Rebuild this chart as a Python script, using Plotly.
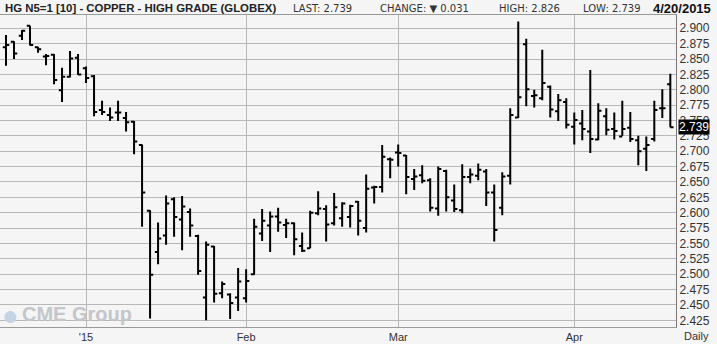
import plotly.graph_objects as go

dates = [
    "2014-12-17", "2014-12-18", "2014-12-19", "2014-12-22", "2014-12-23", "2014-12-24", "2014-12-26",
    "2014-12-29", "2014-12-30", "2014-12-31",
    "2015-01-02", "2015-01-05", "2015-01-06", "2015-01-07", "2015-01-08", "2015-01-09", "2015-01-12",
    "2015-01-13", "2015-01-14", "2015-01-15", "2015-01-16", "2015-01-20", "2015-01-21", "2015-01-22",
    "2015-01-23", "2015-01-26", "2015-01-27", "2015-01-28", "2015-01-29", "2015-01-30",
    "2015-02-02", "2015-02-03", "2015-02-04", "2015-02-05", "2015-02-06", "2015-02-09", "2015-02-10",
    "2015-02-11", "2015-02-12", "2015-02-13", "2015-02-17", "2015-02-18", "2015-02-19", "2015-02-20",
    "2015-02-23", "2015-02-24", "2015-02-25", "2015-02-26", "2015-02-27",
    "2015-03-02", "2015-03-03", "2015-03-04", "2015-03-05", "2015-03-06", "2015-03-09", "2015-03-10",
    "2015-03-11", "2015-03-12", "2015-03-13", "2015-03-16", "2015-03-17", "2015-03-18", "2015-03-19",
    "2015-03-20", "2015-03-23", "2015-03-24", "2015-03-25", "2015-03-26", "2015-03-27", "2015-03-30",
    "2015-03-31",
    "2015-04-01", "2015-04-02", "2015-04-06", "2015-04-07", "2015-04-08", "2015-04-09", "2015-04-10",
    "2015-04-13", "2015-04-14", "2015-04-15", "2015-04-16", "2015-04-17", "2015-04-20",
]

open_ = [
    2.869, 2.878, 2.888, 2.904, 2.869, 2.854, 2.857, 2.799, 2.821, 2.852,
    2.835, 2.822, 2.767, 2.759, 2.763, 2.754, 2.748, 2.710, 2.603, 2.536,
    2.563, 2.622, 2.589, 2.601, 2.562, 2.462, 2.545, 2.469, 2.467, 2.462,
    2.461, 2.500, 2.566, 2.579, 2.594, 2.580, 2.583, 2.546, 2.542, 2.599,
    2.606, 2.583, 2.591, 2.593, 2.618, 2.575, 2.641, 2.642, 2.687,
    2.698, 2.693, 2.655, 2.661, 2.653, 2.607, 2.668, 2.620, 2.604, 2.658,
    2.660, 2.667, 2.633, 2.608, 2.660, 2.755, 2.874, 2.790, 2.786, 2.805,
    2.765, 2.780,
    2.740, 2.745, 2.732, 2.719, 2.757, 2.736, 2.724, 2.738, 2.718, 2.704,
    2.720, 2.770, 2.809,
]
high = [
    2.889, 2.879, 2.897, 2.904, 2.870, 2.858, 2.858, 2.836, 2.863, 2.858,
    2.838, 2.824, 2.782, 2.771, 2.782, 2.764, 2.749, 2.711, 2.604, 2.584,
    2.628, 2.625, 2.627, 2.607, 2.564, 2.553, 2.546, 2.488, 2.469, 2.510,
    2.508, 2.590, 2.606, 2.602, 2.608, 2.590, 2.584, 2.568, 2.603, 2.635,
    2.612, 2.632, 2.617, 2.613, 2.619, 2.662, 2.644, 2.710, 2.690,
    2.711, 2.694, 2.671, 2.677, 2.656, 2.675, 2.670, 2.646, 2.679, 2.672,
    2.680, 2.671, 2.646, 2.666, 2.770, 2.911, 2.883, 2.800, 2.865, 2.807,
    2.793, 2.786,
    2.763, 2.767, 2.832, 2.778, 2.770, 2.763, 2.782, 2.764, 2.725, 2.724,
    2.782, 2.801, 2.826,
]
low = [
    2.839, 2.850, 2.881, 2.872, 2.860, 2.840, 2.809, 2.780, 2.820, 2.824,
    2.811, 2.757, 2.759, 2.749, 2.749, 2.732, 2.695, 2.577, 2.428, 2.516,
    2.548, 2.561, 2.539, 2.561, 2.499, 2.425, 2.454, 2.461, 2.427, 2.440,
    2.454, 2.499, 2.554, 2.536, 2.569, 2.559, 2.531, 2.536, 2.542, 2.596,
    2.553, 2.579, 2.577, 2.576, 2.563, 2.568, 2.615, 2.633, 2.656,
    2.675, 2.630, 2.637, 2.648, 2.602, 2.595, 2.602, 2.601, 2.599, 2.648,
    2.653, 2.611, 2.553, 2.596, 2.646, 2.754, 2.773, 2.771, 2.783, 2.755,
    2.749, 2.737,
    2.711, 2.718, 2.697, 2.718, 2.726, 2.719, 2.725, 2.715, 2.677, 2.668,
    2.716, 2.754, 2.739,
]
close = [
    2.873, 2.859, 2.896, 2.873, 2.866, 2.855, 2.816, 2.821, 2.851, 2.825,
    2.819, 2.764, 2.764, 2.755, 2.763, 2.747, 2.716, 2.633, 2.499, 2.558,
    2.615, 2.593, 2.610, 2.579, 2.505, 2.548, 2.468, 2.484, 2.453, 2.488,
    2.489, 2.577, 2.587, 2.594, 2.584, 2.583, 2.557, 2.538, 2.600, 2.607,
    2.581, 2.609, 2.615, 2.611, 2.587, 2.639, 2.642, 2.691, 2.686,
    2.697, 2.658, 2.659, 2.652, 2.608, 2.671, 2.625, 2.606, 2.658, 2.662,
    2.670, 2.633, 2.572, 2.659, 2.759, 2.788, 2.801, 2.791, 2.811, 2.768,
    2.783, 2.743,
    2.751, 2.736, 2.720, 2.766, 2.735, 2.733, 2.736, 2.720, 2.700, 2.710,
    2.767, 2.770, 2.739,
]

month_starts = ["2015-01-02", "2015-02-02", "2015-03-02", "2015-04-01"]
month_labels = ["'15", "Feb", "Mar", "Apr"]
price_ticks = [2.425, 2.450, 2.475, 2.500, 2.525, 2.550, 2.575, 2.600, 2.625, 2.650,
               2.675, 2.700, 2.725, 2.750, 2.775, 2.800, 2.825, 2.850, 2.875, 2.900]

last_price = 2.739
header_title = "HG N5=1 [10] - COPPER - HIGH GRADE (GLOBEX)"
header_items = ["LAST: 2.739", "CHANGE: \u25bc 0.031", "HIGH: 2.826", "LOW: 2.739"]
header_date = "4/20/2015"

W, H = 717, 344
ML, MR, MT, MB = 0, 41, 15, 17
PW, PH = W - ML - MR, H - MT - MB

def px(xp):
    return (xp - ML) / PW

def py(yp):
    return (H - MB - yp) / PH

fig = go.Figure()
fig.add_trace(go.Ohlc(
    x=dates, open=open_, high=high, low=low, close=close,
    increasing=dict(line=dict(color="#000000", width=2)),
    decreasing=dict(line=dict(color="#000000", width=2)),
    tickwidth=0.4, hoverinfo="skip", showlegend=False,
))

bg = "#f5f5f5"
grid = "#b8b8b8"
fig.update_layout(
    width=W, height=H,
    margin=dict(l=ML, r=MR, t=MT, b=MB),
    paper_bgcolor=bg, plot_bgcolor=bg,
    font=dict(family="Liberation Sans, Arial, sans-serif", color="#333333", size=11),
    showlegend=False,
    xaxis=dict(
        type="category", range=[-0.75, len(dates) - 1 + 0.71],
        rangeslider=dict(visible=False),
        tickmode="array", tickvals=month_starts, ticktext=month_labels,
        showgrid=True, gridcolor=grid, gridwidth=1,
        ticks="", showline=True, linecolor="#999999", linewidth=1, mirror=True,
        tickfont=dict(size=11, color="#333333"), zeroline=False,
    ),
    yaxis=dict(
        side="right", range=[2.4141, 2.9216],
        tickmode="array", tickvals=price_ticks,
        ticktext=["%.3f" % v for v in price_ticks],
        showgrid=True, gridcolor=grid, gridwidth=1,
        ticks="", showline=True, linecolor="#777777", linewidth=1, mirror=True,
        tickfont=dict(size=12, color="#333333"), zeroline=False,
    ),
)

ann = []
ann.append(dict(xref="paper", yref="paper", x=px(3), y=py(8), xanchor="left", yanchor="middle",
                text="<b>%s</b>" % header_title, showarrow=False,
                font=dict(size=11.4, color="#222222", family="Liberation Sans, Arial, sans-serif")))
for xpos, t in zip([291, 378, 497, 581], header_items):
    ann.append(dict(xref="paper", yref="paper", x=px(xpos), y=py(8), xanchor="left", yanchor="middle",
                    text=t, showarrow=False,
                    font=dict(size=10, color="#333333", family="DejaVu Sans, sans-serif")))
ann.append(dict(xref="paper", yref="paper", x=px(713), y=py(8), xanchor="right", yanchor="middle",
                text="<b>%s</b>" % header_date, showarrow=False,
                font=dict(size=13, color="#111111", family="Liberation Sans, Arial, sans-serif")))
ann.append(dict(xref="paper", yref="y", x=px(678), y=last_price, xanchor="left", yanchor="middle",
                text="2.739", showarrow=False, bgcolor="#000000", borderpad=0,
                font=dict(size=12, color="#ffffff", family="Liberation Sans, Arial, sans-serif")))
ann.append(dict(xref="paper", yref="paper", x=px(696), y=py(336), xanchor="center", yanchor="middle",
                text="Daily", showarrow=False, font=dict(size=11, color="#333333")))
ann.append(dict(xref="paper", yref="paper", x=px(0), y=py(315), xanchor="left", yanchor="middle",
                text="\u25cf", showarrow=False, font=dict(size=28, color="#c5d3e4")))
ann.append(dict(xref="paper", yref="paper", x=px(20), y=py(314), xanchor="left", yanchor="middle",
                text="<b>CME Group</b>", showarrow=False,
                font=dict(size=20, color="#c3c6cb", family="Liberation Sans, Arial, sans-serif")))
fig.update_layout(annotations=ann)

fig.write_html("out.html")
